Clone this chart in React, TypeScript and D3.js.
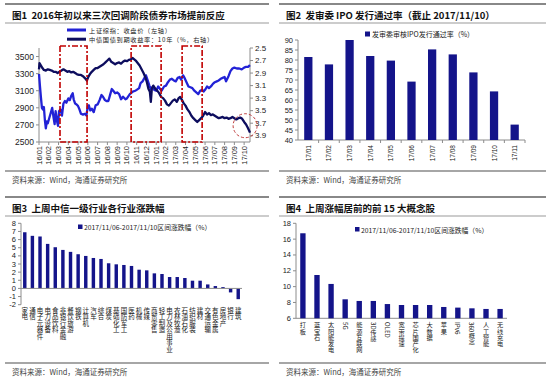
import React from 'react';
import * as d3 from 'd3';

const FONT = '"Noto Sans CJK SC", "Liberation Sans", sans-serif';
const NUMFONT = '"Liberation Sans", Arial, sans-serif';

// ---------- Panel 1 data ----------
const monthLabels = ['16/01','16/02','16/03','16/04','16/05','16/06','16/07','16/08','16/09','16/10','16/11','16/12',
  '17/01','17/02','17/03','17/04','17/05','17/06','17/07','17/08','17/09','17/10'];
// x is month position (0 = 16/01 label)
const shMonths = [0,0.1,0.2,0.3,0.4,0.5,0.6,0.7,0.8,0.9,1.0,1.2,1.35,1.5,1.6,1.7,1.85,1.95,2.05,2.2,2.35,2.5,2.65,2.8,3.0,3.15,3.3,3.45,3.55,3.7,3.85,4.0,4.15,4.3,4.5,4.7,4.85,5.0,5.1,5.25,5.4,5.6,5.8,6.0,6.2,6.4,6.55,6.75,6.9,7.1,7.3,7.45,7.6,7.8,8.0,8.2,8.4,8.6,8.85,9.0,9.3,9.6,9.85,10.0,10.25,10.4,10.6,10.8,10.95,11.1,11.3,11.45,11.6,11.8,12.0,12.2,12.4,12.55,12.8,13.0,13.2,13.4,13.6,13.8,14.0,14.2,14.4,14.55,14.75,14.9,15.1,15.3,15.5,15.7,15.9,16.1,16.3,16.5,16.7,16.85,17.0,17.2,17.4,17.6,17.8,18.0,18.2,18.4,18.6,18.8,19.0,19.15,19.4,19.6,19.8,20.0,20.25,20.5,20.75,21.0,21.2,21.4,21.6];
const shClose = [3296,3150,3020,2900,2880,2910,2760,2660,2740,2720,2760,2840,2900,2780,2710,2860,2740,2690,2860,2880,2810,2950,2980,2960,3010,2990,3040,3070,3000,2950,2940,2920,2880,2830,2820,2830,2810,2920,2930,2870,2890,2850,2930,2940,2990,3050,3030,2990,2980,2980,3060,3120,3100,3070,3080,3060,3000,3030,3000,3010,3060,3090,3100,3110,3130,3190,3210,3250,3280,3230,3160,3120,3140,3110,3100,3150,3120,3100,3150,3160,3200,3230,3240,3220,3210,3250,3260,3230,3280,3250,3200,3150,3140,3130,3100,3080,3060,3100,3110,3090,3110,3150,3130,3150,3180,3200,3210,3220,3240,3250,3260,3210,3270,3330,3360,3370,3360,3360,3350,3370,3380,3380,3400];
const yieldMonths = [0,0.05,0.2,0.35,0.5,0.7,0.9,1.1,1.3,1.5,1.7,1.9,2.1,2.3,2.5,2.7,2.9,3.1,3.3,3.5,3.7,3.9,4.1,4.3,4.5,4.7,4.9,5.05,5.2,5.4,5.6,5.8,6.0,6.2,6.4,6.6,6.8,7.0,7.2,7.4,7.6,7.8,8.0,8.2,8.4,8.6,8.8,9.0,9.2,9.4,9.6,9.75,9.9,10.1,10.3,10.5,10.7,10.9,11.05,11.2,11.35,11.45,11.55,11.7,11.9,12.1,12.3,12.5,12.7,12.9,13.1,13.3,13.5,13.7,13.9,14.1,14.3,14.45,14.6,14.8,15.0,15.2,15.4,15.6,15.8,16.0,16.2,16.4,16.6,16.8,17.0,17.2,17.4,17.6,17.8,18.0,18.2,18.4,18.6,18.8,19.0,19.2,19.4,19.6,19.8,20.0,20.2,20.4,20.6,20.8,21.0,21.2,21.4,21.6];
const yield10y = [2.84,2.74,2.78,2.82,2.85,2.86,2.84,2.85,2.86,2.88,2.88,2.90,2.88,2.86,2.84,2.86,2.88,2.87,2.89,2.88,2.90,2.92,2.93,2.93,2.95,2.98,3.02,2.96,2.92,2.88,2.85,2.82,2.82,2.80,2.78,2.76,2.73,2.70,2.67,2.72,2.74,2.76,2.74,2.73,2.75,2.72,2.70,2.71,2.69,2.68,2.66,2.68,2.70,2.74,2.78,2.84,2.90,2.97,3.05,3.15,3.20,3.36,3.15,3.10,3.15,3.18,3.22,3.28,3.30,3.34,3.40,3.42,3.38,3.34,3.32,3.36,3.30,3.28,3.32,3.38,3.42,3.48,3.52,3.58,3.62,3.65,3.68,3.65,3.62,3.58,3.52,3.56,3.54,3.57,3.56,3.58,3.60,3.62,3.61,3.60,3.62,3.61,3.63,3.62,3.60,3.62,3.64,3.62,3.61,3.63,3.68,3.72,3.78,3.85];
const boxStarts = [2.15, 9.43, 14.65];
const boxEnds = [4.92, 12.5, 16.7];
const leftTicks = [2500, 2700, 2900, 3100, 3300, 3500];
const rightTicks = [2.5, 2.7, 2.9, 3.1, 3.3, 3.5, 3.7, 3.9];

// ---------- Panel 2 data ----------
const ipoMonths = ['17/01','17/02','17/03','17/04','17/05','17/06','17/07','17/08','17/09','17/10','17/11'];
const ipoRates = [81.5, 77.8, 90.0, 82.0, 79.7, 69.2, 85.3, 82.8, 73.8, 64.3, 47.7];
const ipoTicks = [40, 45, 50, 55, 60, 65, 70, 75, 80, 85, 90];

// ---------- Panel 3 data ----------
const industries = ['家电','通信','电子元器件','电力设备','食品饮料','非银行金融','餐饮旅游','钢铁','计算机','汽车','综合','煤炭','基础化工','国防军工','医药','机械','传媒','商贸零售','轻工制造','电力及公用事业','农林牧渔','石油石化','纺织服装','建材','交通运输','有色金属','房地产','银行','建筑'];
const industryChg = [6.9,6.46,6.38,5.47,5.06,4.73,4.49,4.2,3.99,3.74,3.62,3.09,2.96,2.88,2.76,2.3,2.22,1.85,1.77,1.4,1.4,1.28,0.95,0.95,0.49,0.29,0.16,-0.49,-1.32];
const industryTicks = [-2,-1,0,1,2,3,4,5,6,7,8];

// ---------- Panel 4 data ----------
const concepts = ['打板','蓝宝石','太阳能发电','5G','能源互联网','3D传感','OLED','宽带提速','芯片国产化','大数据','苹果','IPv6','360概念','人工智能','无线充电'];
const conceptChg = [16.74,11.47,10.34,8.4,8.19,8.19,7.8,7.68,7.68,7.68,7.43,7.35,7.26,7.18,7.18];
const conceptTicks = [6, 8, 10, 12, 14, 16, 18];

const legendText = '2017/11/06-2017/11/10区间涨跌幅（%）';
const source = '资料来源：Wind，海通证券研究所';

const BLUE = '#2222d6';
const NAVY = '#0d0d5e';
const BAR = '#14148a';
const GRID = '#8c8c8c';
const TXT = '#222';

function Frame({ x0, x1, y0, title, srcY }: { x0: number; x1: number; y0: number; title: string; srcY: number }) {
  return (
    <g>
      <line x1={x0} x2={x1} y1={y0} y2={y0} stroke="#888" strokeWidth={2} />
      <text x={x0 + 7} y={y0 + 11} fontFamily={FONT} fontWeight="bold" fontSize={9.5} fill="#111" dominantBaseline="central" style={{ whiteSpace: 'pre' }}>{title}</text>
      <line x1={x0} x2={x1} y1={y0 + 19} y2={y0 + 19} stroke="#999" strokeWidth={1.2} />
      <line x1={x0} x2={x1} y1={srcY} y2={srcY} stroke="#888" strokeWidth={1.5} />
      <text x={x0 + 7} y={srcY + 8} fontFamily={FONT} fontSize={7.5} fill="#444" dominantBaseline="central">{source}</text>
    </g>
  );
}

function Panel1() {
  const x = d3.scaleLinear().domain([0, 21.6]).range([39, 250]);
  const yL = d3.scaleLinear().domain([2500, 3600]).range([142, 48]);
  const yR = d3.scaleLinear().domain([2.5, 4.0]).range([48, 142]);
  const shData = shMonths.map((m, i) => [m, shClose[i]] as [number, number]);
  const yData = yieldMonths.map((m, i) => [m, yield10y[i]] as [number, number]);
  const lineL = d3.line<[number, number]>().x(d => x(d[0])).y(d => yL(d[1]));
  const lineR = d3.line<[number, number]>().x(d => x(d[0])).y(d => yR(d[1]));
  return (
    <g>
      {/* axes */}
      <line x1={39} x2={39} y1={48} y2={142} stroke={GRID} />
      <line x1={250} x2={250} y1={48} y2={142} stroke={GRID} />
      <line x1={39} x2={250} y1={142} y2={142} stroke={GRID} />
      {leftTicks.map(t => (
        <g key={t}>
          <line x1={36} x2={39} y1={yL(t)} y2={yL(t)} stroke={GRID} />
          <text x={34} y={yL(t)} textAnchor="end" dominantBaseline="central" fontFamily={NUMFONT} fontSize={8.5} fill={TXT}>{t}</text>
        </g>
      ))}
      {rightTicks.map(t => (
        <g key={t}>
          <line x1={250} x2={253} y1={yR(t)} y2={yR(t)} stroke={GRID} />
          <text x={255} y={yR(t)} dominantBaseline="central" fontFamily={NUMFONT} fontSize={8} fill={TXT}>{t.toFixed(1)}</text>
        </g>
      ))}
      {monthLabels.map((lab, i) => (
        <g key={lab}>
          <line x1={x(i)} x2={x(i)} y1={142} y2={145} stroke={GRID} />
          <text transform={`translate(${x(i)},146) rotate(-90)`} textAnchor="end" dominantBaseline="central" fontFamily={NUMFONT} fontSize={7.5} fill={TXT}>{lab}</text>
        </g>
      ))}
      {/* lines */}
      <path d={lineL(shData) || ''} fill="none" stroke={BLUE} strokeWidth={2.3} strokeLinejoin="round" />
      <path d={lineR(yData) || ''} fill="none" stroke={NAVY} strokeWidth={2.3} strokeLinejoin="round" />
      {/* red boxes */}
      {boxStarts.map((s, i) => (
        <rect key={i} x={x(s)} y={46} width={x(boxEnds[i]) - x(s)} height={96} fill="none" stroke="#c00000" strokeWidth={1.6} strokeDasharray="6,2,2,2" />
      ))}
      <circle cx={x(21.1)} cy={yR(3.74)} r={12} fill="none" stroke="#c04040" strokeWidth={1} strokeDasharray="3,2" />
      {/* legend */}
      <line x1={67} x2={86} y1={30} y2={30} stroke={BLUE} strokeWidth={3} />
      <text x={89} y={30} dominantBaseline="central" fontFamily={FONT} fontSize={6.2} letterSpacing={0.7} fill={TXT}>上证综指：收盘价（左轴）</text>
      <line x1={67} x2={86} y1={39.2} y2={39.2} stroke={NAVY} strokeWidth={3} />
      <text x={89} y={39.2} dominantBaseline="central" fontFamily={FONT} fontSize={6.2} letterSpacing={0.7} fill={TXT}>中债国债到期收益率：10年（%，右轴）</text>
    </g>
  );
}

function Panel2() {
  const x = d3.scaleBand<string>().domain(ipoMonths).range([298, 525]).paddingInner(0.6).paddingOuter(0.3);
  const y = d3.scaleLinear().domain([40, 90]).range([140, 40]);
  const step = x.step();
  return (
    <g>
      <line x1={298} x2={298} y1={40} y2={140} stroke={GRID} />
      <line x1={298} x2={525} y1={140} y2={140} stroke={GRID} />
      {ipoTicks.map(t => (
        <g key={t}>
          <line x1={295} x2={298} y1={y(t)} y2={y(t)} stroke={GRID} />
          <text x={293} y={y(t)} textAnchor="end" dominantBaseline="central" fontFamily={NUMFONT} fontSize={7.5} fill={TXT}>{t}</text>
        </g>
      ))}
      {ipoMonths.map((m, i) => (
        <g key={m}>
          <line x1={298 + step * (i + 1)} x2={298 + step * (i + 1)} y1={140} y2={143} stroke={GRID} />
          <rect x={x(m)} y={y(ipoRates[i])} width={x.bandwidth()} height={140 - y(ipoRates[i])} fill={BAR} />
          <text transform={`translate(${(x(m) || 0) + x.bandwidth() / 2},145) rotate(-90)`} textAnchor="end" dominantBaseline="central" fontFamily={NUMFONT} fontSize={6.5} fill={TXT}>{m}</text>
        </g>
      ))}
      <rect x={365} y={31.5} width={5} height={5} fill={BAR} />
      <text x={372} y={34} dominantBaseline="central" fontFamily={FONT} fontSize={7} fill={TXT}>发审委审核IPO发行通过率（%）</text>
    </g>
  );
}

function Panel3() {
  const x = d3.scaleBand<string>().domain(industries).range([21, 242]).paddingInner(0.55).paddingOuter(0.27);
  const y = d3.scaleLinear().domain([-2, 8]).range([304.7, 223.3]);
  return (
    <g>
      <line x1={21} x2={21} y1={223.3} y2={304.7} stroke={GRID} />
      {industryTicks.map(t => (
        <g key={t}>
          <line x1={18} x2={21} y1={y(t)} y2={y(t)} stroke={GRID} />
          <text x={16} y={y(t)} textAnchor="end" dominantBaseline="central" fontFamily={NUMFONT} fontSize={7.5} fill={TXT}>{t}</text>
        </g>
      ))}
      {industries.map((n, i) => {
        const v = industryChg[i];
        const top = Math.min(y(v), y(0));
        return (
          <g key={n}>
            <rect x={x(n)} y={top} width={x.bandwidth()} height={Math.abs(y(v) - y(0))} fill={BAR} />
            <text x={(x(n) || 0) + x.bandwidth() / 2} y={307} style={{ writingMode: 'vertical-rl' as any }} fontFamily={FONT} fontSize={6.5} fill={TXT}>{n}</text>
          </g>
        );
      })}
      <line x1={21} x2={242} y1={y(0)} y2={y(0)} stroke={GRID} />
      <rect x={78} y={224.5} width={4.5} height={4.5} fill={BAR} />
      <text x={84} y={227} dominantBaseline="central" fontFamily={FONT} fontSize={6.8} fill={TXT}>{legendText}</text>
    </g>
  );
}

function Panel4() {
  const x = d3.scaleBand<string>().domain(concepts).range([296, 507]).paddingInner(0.62).paddingOuter(0.3);
  const y = d3.scaleLinear().domain([6, 18]).range([318.3, 223.3]);
  return (
    <g>
      <line x1={296} x2={296} y1={223.3} y2={318.3} stroke={GRID} />
      <line x1={296} x2={507} y1={318.3} y2={318.3} stroke={GRID} />
      {conceptTicks.map(t => (
        <g key={t}>
          <line x1={293} x2={296} y1={y(t)} y2={y(t)} stroke={GRID} />
          <text x={291} y={y(t)} textAnchor="end" dominantBaseline="central" fontFamily={NUMFONT} fontSize={7.5} fill={TXT}>{t}</text>
        </g>
      ))}
      {concepts.map((n, i) => (
        <g key={n}>
          <rect x={x(n)} y={y(conceptChg[i])} width={x.bandwidth()} height={318.3 - y(conceptChg[i])} fill={BAR} />
          <text x={(x(n) || 0) + x.bandwidth() / 2} y={322} style={{ writingMode: 'vertical-rl' as any }} fontFamily={FONT} fontSize={6.2} fill={TXT}>{n}</text>
        </g>
      ))}
      <rect x={355} y={227} width={4.5} height={4.5} fill={BAR} />
      <text x={361} y={229.5} dominantBaseline="central" fontFamily={FONT} fontSize={6.8} fill={TXT}>{legendText}</text>
    </g>
  );
}

export default function App() {
  return (
    <svg width={550} height={377} style={{ position: 'absolute', left: 0, top: 0 }} xmlns="http://www.w3.org/2000/svg">
      <rect x={0} y={0} width={550} height={377} fill="#fff" />
      <Frame x0={5} x1={269} y0={4} title="图1  2016年初以来三次回调阶段债券市场提前反应" srcY={171} />
      <Frame x0={279} x1={546} y0={4} title="图2  发审委 IPO 发行通过率（截止 2017/11/10）" srcY={171} />
      <Frame x0={5} x1={269} y0={197} title="图3  上周中信一级行业各行业涨跌幅" srcY={363} />
      <Frame x0={279} x1={546} y0={197} title="图4  上周涨幅居前的前 15 大概念股" srcY={363} />
      <Panel1 />
      <Panel2 />
      <Panel3 />
      <Panel4 />
    </svg>
  );
}
